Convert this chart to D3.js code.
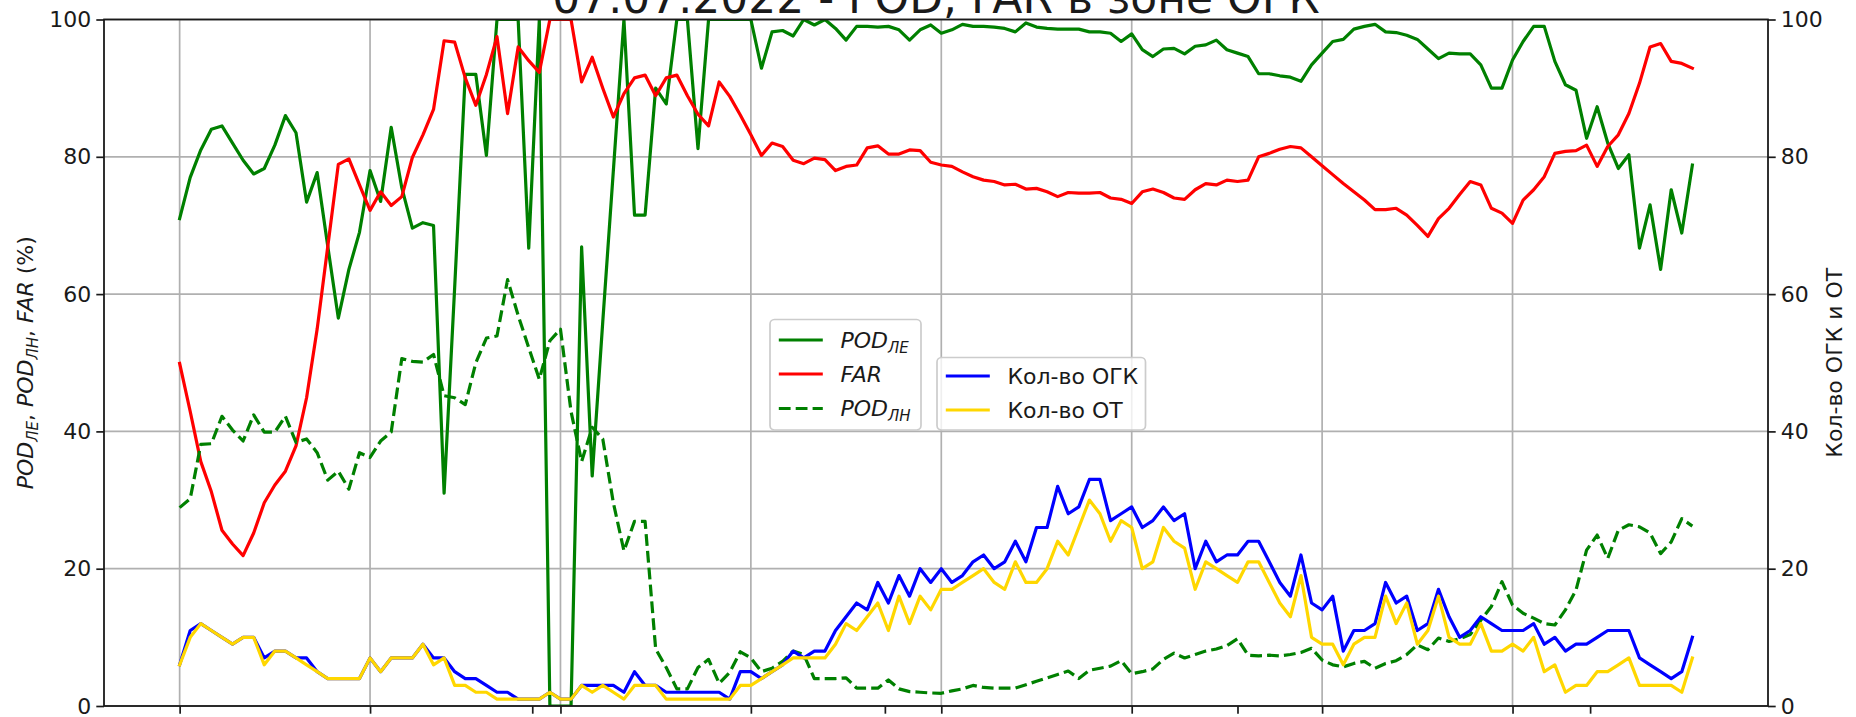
<!DOCTYPE html>
<html>
<head>
<meta charset="utf-8">
<script src="https://cdn.jsdelivr.net/npm/d3@7"></script>
<style>
  body { margin: 0; background: #ffffff; }
  svg text { font-family: "DejaVu Sans", sans-serif; fill: #1a1a1a; }
</style>
</head>
<body>
<svg id="chart" width="1856" height="717"></svg>
<script>
// 10-minute steps over the day, minutes from 00:00
const minutes = d3.range(0, 1440, 10);

// POD for thunderstorm cells (solid green), %
const podLE = [71,77,81,84,84.5,82,79.5,77.5,78.3,81.7,
  86,83.5,73.4,77.7,67,56.5,63.6,69,78,73.5,
  84.3,75.5,69.6,70.4,70,31,61,92,92,80.2,
  100,100,100,66.7,100,0,0,0,66.9,33.5,
  56,78,100,71.5,71.5,90,87.7,100,100,81.2,
  100,100,100,100,100,92.9,98.2,98.4,97.6,100,
  99.2,100,98.7,97,99,99,98.9,99,98.5,97,
  98.5,99.2,98,98.5,99.3,99,99,98.9,98.7,98.2,
  99.5,98.9,98.7,98.6,98.6,98.6,98.2,98.2,98,96.8,
  97.9,95.6,94.6,95.7,95.8,95,96.1,96.3,97,95.6,
  95.1,94.6,92.1,92.1,91.8,91.6,91,93.4,95.1,96.8,
  97.1,98.6,99,99.3,98.2,98.1,97.7,97.1,95.7,94.3,
  95.1,95,95,93.4,90,90,94.1,96.8,99,99,
  93.9,90.5,89.7,82.7,87.3,82,78.3,80.3,66.7,73,
  63.6,75.2,68.9,78.8];

// False alarm ratio, %
const far = [49.9,42.9,35.6,31.2,25.6,23.6,21.9,25.2,29.6,32.2,
  34.2,37.9,44.9,54.9,66.9,78.9,79.7,75.9,72.2,74.9,
  72.9,74.2,79.9,83.2,86.9,96.9,96.7,91.5,87.5,92,
  97.5,86.3,96,94,92.3,100,100,100,90.9,94.5,
  90,85.8,89.2,91.5,91.9,88.9,91.5,91.9,88.9,86.2,
  84.5,90.9,88.8,86.1,83.2,80.2,82,81.5,79.5,79,
  79.8,79.6,78,78.6,78.8,81.3,81.6,80.4,80.4,81,
  80.9,79.2,78.8,78.6,77.8,77.1,76.6,76.4,75.9,76,
  75.3,75.4,74.9,74.2,74.8,74.7,74.7,74.8,74,73.8,
  73.2,74.9,75.3,74.8,74,73.8,75.2,76.1,75.9,76.6,
  76.4,76.6,80,80.5,81.1,81.5,81.3,80,78.7,77.4,
  76.1,74.9,73.7,72.3,72.3,72.5,71.5,70,68.4,71,
  72.5,74.5,76.4,75.9,72.5,71.8,70.3,73.7,75.2,77.1,
  80.5,80.8,80.9,81.7,78.6,81.5,83.2,86.3,90.7,96,
  96.5,93.9,93.6,92.9];

// POD for lightning (dashed green), %
const podLN = [28.9,30.2,38.1,38.2,42.2,40.2,38.6,42.4,39.9,39.9,
  42.2,38.4,38.9,36.9,32.9,34.2,31.6,36.9,36.2,38.6,
  39.9,50.6,50.2,50.1,51.2,45.2,44.9,43.9,50,53.6,
  53.9,62.1,56.9,52.2,47.6,53.2,54.9,42.9,35.6,40.6,
  38.9,29.6,22.6,26.9,26.9,8.3,5.6,2.5,2.5,5.6,
  6.8,3.3,4.9,7.9,7,5,5.5,6.5,8,7.5,
  4,4,4,4.1,2.6,2.6,2.6,3.8,2.5,2.1,
  2,1.9,1.85,2.2,2.5,3,2.7,2.6,2.6,2.6,
  3.1,3.6,4.1,4.6,5.1,4,5.2,5.5,5.8,6.6,
  4.7,5,5.4,6.8,7.7,7,7.5,8,8.3,8.8,
  9.8,7.4,7.3,7.4,7.3,7.5,7.8,8.4,6.7,6,
  5.7,6.2,6.5,5.5,6.2,6.6,7.5,8.9,8.2,9.9,
  9.4,9.8,10.4,12.5,14.5,18.1,14.7,13.5,12.8,12,
  11.8,14,16.9,22.7,24.9,21.5,25.6,26.4,26.1,25.2,
  22.2,23.9,27.3,26.2];

// Number of thunderstorm cells (right axis)
const countOGK = [6,11,12,11,10,9,10,10,7,8,
  8,7,7,5,4,4,4,4,7,5,
  7,7,7,9,7,7,5,4,4,3,
  2,2,1,1,1,2,1,1,3,3,
  3,3,2,5,3,3,2,2,2,2,
  2,2,1,5,5,4,5,6,8,7,
  8,8,11,13,15,14,18,15,19,16,
  20,18,20,18,19,21,22,20,21,24,
  21,26,26,32,28,29,33,33,27,28,
  29,26,27,29,27,28,20,24,21,22,
  22,24,24,21,18,16,22,15,14,16,
  8,11,11,12,18,15,16,11,12,17,
  13,10,11,13,12,11,11,11,12,9,
  10,8,9,9,10,11,11,11,7,6,
  5,4,5,10];

// Number of thunderstorms (right axis)
const countOT = [6,10,12,11,10,9,10,10,6,8,
  8,7,6,5,4,4,4,4,7,5,
  7,7,7,9,6,7,3,3,2,2,
  1,1,1,1,1,2,1,1,3,2,
  3,2,1,3,3,3,1,1,1,1,
  1,1,1,3,3,4,5,6,7,7,
  7,7,9,12,11,13,15,11,16,12,
  16,14,17,17,18,19,20,18,17,21,
  18,18,20,24,22,26,30,28,24,27,
  26,20,21,26,24,23,17,21,20,19,
  18,21,21,18,15,13,19,10,9,9,
  6,9,10,10,16,12,15,9,11,16,
  10,9,9,12,8,8,9,8,10,5,
  6,2,3,3,5,5,6,7,3,3,
  3,3,2,7];

const yTicks = [0, 20, 40, 60, 80, 100];
const majorTickMinutes = [0, 180, 360, 540, 720, 900, 1080, 1260];
const extraTickMinutes = [20000 / 60, 40000 / 60, 60000 / 60, 80000 / 60];
const titleText = "07.07.2022 - POD, FAR в зоне ОГК";
const rightLabel = "Кол-во ОГК и ОТ";

const svg = d3.select("#chart");
const plot = { left: 104, right: 1768, top: 19.5, bottom: 706 };
const fontPx = 22;

const x = d3.scaleLinear().domain([-71.5, 1501.5]).range([plot.left, plot.right]);
const yLeft = d3.scaleLinear().domain([0, 100]).range([plot.bottom, plot.top]);
const yRight = d3.scaleLinear().domain([0, 100]).range([plot.bottom, plot.top]);

svg.append("defs").append("clipPath").attr("id", "plot-clip")
  .append("rect")
  .attr("x", plot.left).attr("y", plot.top)
  .attr("width", plot.right - plot.left).attr("height", plot.bottom - plot.top);

// grid
const grid = svg.append("g").attr("stroke", "#b0b0b0").attr("stroke-width", 1.7);
grid.selectAll("line.h").data(yTicks).join("line")
  .attr("x1", plot.left).attr("x2", plot.right)
  .attr("y1", d => yLeft(d)).attr("y2", d => yLeft(d));
grid.selectAll("line.v").data(majorTickMinutes).join("line")
  .attr("x1", d => x(d)).attr("x2", d => x(d))
  .attr("y1", plot.top).attr("y2", plot.bottom);

function drawSeries(values, scale, color, dash) {
  const gen = d3.line().x((d, i) => x(minutes[i])).y(d => scale(d));
  svg.append("path")
    .datum(values)
    .attr("clip-path", "url(#plot-clip)")
    .attr("fill", "none")
    .attr("stroke", color)
    .attr("stroke-width", 3.2)
    .attr("stroke-linejoin", "round")
    .attr("stroke-linecap", dash ? "butt" : "square")
    .attr("stroke-dasharray", dash || null)
    .attr("d", gen);
}

// left-axis series
drawSeries(podLE, yLeft, "#008000", null);
drawSeries(far, yLeft, "#ff0000", null);
drawSeries(podLN, yLeft, "#008000", "11.8,5.1");

// legend helper
function legend(x0, y0, w, h, rows) {
  const g = svg.append("g");
  g.append("rect")
    .attr("x", x0).attr("y", y0).attr("width", w).attr("height", h)
    .attr("rx", 4.4)
    .attr("fill", "#ffffff").attr("fill-opacity", 0.8)
    .attr("stroke", "#cccccc").attr("stroke-width", 1.7);
  rows.forEach(r => {
    g.append("line")
      .attr("x1", x0 + 8.8).attr("x2", x0 + 8.8 + 44)
      .attr("y1", r.y).attr("y2", r.y)
      .attr("stroke", r.color).attr("stroke-width", 3.2)
      .attr("stroke-dasharray", r.dash || null);
    const t = g.append("text")
      .attr("x", x0 + 8.8 + 44 + 17.6).attr("y", r.y + 7.8)
      .attr("font-size", fontPx);
    r.parts.forEach(p => {
      const s = t.append("tspan").text(p.text);
      if (p.italic) s.attr("font-style", "italic");
      if (p.sub) s.attr("font-size", 15).attr("dy", 5);
      if (p.back) s.attr("dy", -5);
    });
  });
}

legend(770, 319.5, 151, 110.5, [
  { y: 340, color: "#008000", parts: [{ text: "POD", italic: true }, { text: "ЛЕ", italic: true, sub: true }] },
  { y: 374, color: "#ff0000", parts: [{ text: "FAR", italic: true }] },
  { y: 408.5, color: "#008000", dash: "11.8,5.1", parts: [{ text: "POD", italic: true }, { text: "ЛН", italic: true, sub: true }] }
]);

// right-axis series
drawSeries(countOGK, yRight, "#0000ff", null);
drawSeries(countOT, yRight, "#ffd700", null);

legend(937, 357.5, 208.5, 72.5, [
  { y: 376, color: "#0000ff", parts: [{ text: "Кол-во ОГК" }] },
  { y: 410, color: "#ffd700", parts: [{ text: "Кол-во ОТ" }] }
]);

// axes
const axisLeft = d3.axisLeft(yLeft).tickValues(yTicks).tickSize(7.7).tickPadding(5).tickFormat(d3.format("d"));
const axisRight = d3.axisRight(yRight).tickValues(yTicks).tickSize(7.7).tickPadding(5).tickFormat(d3.format("d"));
const axisBottom = d3.axisBottom(x).tickValues(majorTickMinutes.concat(extraTickMinutes)).tickSize(7.7).tickFormat("");

function styleAxis(g) {
  g.select(".domain").remove();
  g.selectAll(".tick line").attr("stroke", "#1a1a1a").attr("stroke-width", 1.7);
  g.selectAll(".tick text").attr("font-size", fontPx).attr("fill", "#1a1a1a")
    .style("font-family", "'DejaVu Sans', sans-serif");
}
svg.append("g").attr("transform", `translate(${plot.left},0)`).call(axisLeft).call(styleAxis);
svg.append("g").attr("transform", `translate(${plot.right},0)`).call(axisRight).call(styleAxis);
svg.append("g").attr("transform", `translate(0,${plot.bottom})`).call(axisBottom).call(styleAxis);

// frame
svg.append("rect")
  .attr("x", plot.left).attr("y", plot.top)
  .attr("width", plot.right - plot.left).attr("height", plot.bottom - plot.top)
  .attr("fill", "none").attr("stroke", "#1a1a1a").attr("stroke-width", 1.8);

// axis labels
const leftLab = svg.append("text")
  .attr("transform", `translate(33,${(plot.top + plot.bottom) / 2}) rotate(-90)`)
  .attr("text-anchor", "middle").attr("font-size", fontPx);
[
  { text: "POD", italic: true }, { text: "ЛЕ", italic: true, sub: true },
  { text: ", ", back: true }, { text: "POD", italic: true }, { text: "ЛН", italic: true, sub: true },
  { text: ", ", back: true }, { text: "FAR", italic: true }, { text: " (%)" }
].forEach(p => {
  const s = leftLab.append("tspan").text(p.text);
  if (p.italic) s.attr("font-style", "italic");
  if (p.sub) s.attr("font-size", 15).attr("dy", 5);
  if (p.back) s.attr("dy", -5);
});

svg.append("text")
  .attr("transform", `translate(1842,${(plot.top + plot.bottom) / 2}) rotate(-90)`)
  .attr("text-anchor", "middle").attr("font-size", fontPx)
  .text(rightLabel);

// title
svg.append("text")
  .attr("x", (plot.left + plot.right) / 2).attr("y", 13)
  .attr("text-anchor", "middle").attr("font-size", 44)
  .text(titleText);
</script>
</body>
</html>
